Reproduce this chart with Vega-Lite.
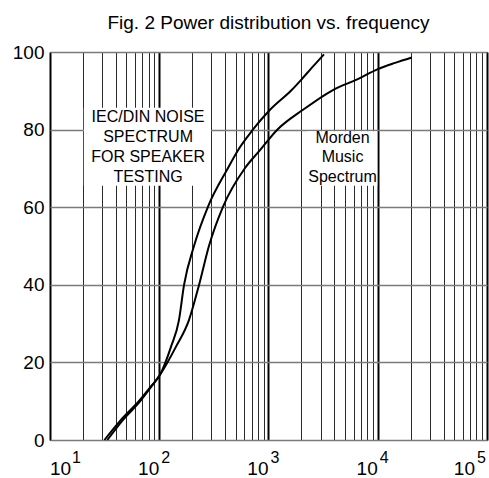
{
  "$schema": "https://vega.github.io/schema/vega-lite/v6.json",
  "width": 437,
  "height": 388,
  "autosize": {"type": "none"},
  "padding": {"left": 50, "top": 52, "right": 2, "bottom": 38},
  "title": {
    "text": "Fig. 2  Power distribution vs. frequency",
    "font": "Liberation Sans",
    "fontSize": 19,
    "fontWeight": "normal",
    "color": "black",
    "anchor": "middle",
    "frame": "group",
    "baseline": "alphabetic",
    "offset": -5
  },
  "config": {
    "view": {"stroke": "black", "strokeWidth": 1},
    "background": "white"
  },
  "datasets": {
    "curves": [
      {"f": 31.5, "v": 0, "s": "IEC/DIN noise"},
      {"f": 44, "v": 5, "s": "IEC/DIN noise"},
      {"f": 65, "v": 10, "s": "IEC/DIN noise"},
      {"f": 85, "v": 14, "s": "IEC/DIN noise"},
      {"f": 101.6, "v": 16.8, "s": "IEC/DIN noise"},
      {"f": 128, "v": 24, "s": "IEC/DIN noise"},
      {"f": 151.5, "v": 30.9, "s": "IEC/DIN noise"},
      {"f": 168.5, "v": 39.9, "s": "IEC/DIN noise"},
      {"f": 208, "v": 50, "s": "IEC/DIN noise"},
      {"f": 279, "v": 60.1, "s": "IEC/DIN noise"},
      {"f": 426, "v": 70.1, "s": "IEC/DIN noise"},
      {"f": 526, "v": 74.7, "s": "IEC/DIN noise"},
      {"f": 716, "v": 79.9, "s": "IEC/DIN noise"},
      {"f": 1033, "v": 85.1, "s": "IEC/DIN noise"},
      {"f": 1629, "v": 90.2, "s": "IEC/DIN noise"},
      {"f": 2000, "v": 92.9, "s": "IEC/DIN noise"},
      {"f": 2450, "v": 95.7, "s": "IEC/DIN noise"},
      {"f": 3220, "v": 99.4, "s": "IEC/DIN noise"},
      {"f": 33.5, "v": 0, "s": "Music"},
      {"f": 46, "v": 5, "s": "Music"},
      {"f": 67, "v": 10, "s": "Music"},
      {"f": 86, "v": 14, "s": "Music"},
      {"f": 101.6, "v": 16.8, "s": "Music"},
      {"f": 142, "v": 24, "s": "Music"},
      {"f": 187, "v": 30.9, "s": "Music"},
      {"f": 231, "v": 39.9, "s": "Music"},
      {"f": 285, "v": 50, "s": "Music"},
      {"f": 383, "v": 60.1, "s": "Music"},
      {"f": 610, "v": 70.1, "s": "Music"},
      {"f": 836, "v": 74.7, "s": "Music"},
      {"f": 1197, "v": 79.9, "s": "Music"},
      {"f": 2070, "v": 85.1, "s": "Music"},
      {"f": 3890, "v": 90.2, "s": "Music"},
      {"f": 6410, "v": 92.9, "s": "Music"},
      {"f": 10050, "v": 95.6, "s": "Music"},
      {"f": 14400, "v": 97.2, "s": "Music"},
      {"f": 20500, "v": 98.6, "s": "Music"}
    ],
    "boxes": [
      {"x1": 20.4, "x2": 297, "y1": 65.5, "y2": 85.6},
      {"x1": 2250, "x2": 9900, "y1": 65.5, "y2": 79.6}
    ],
    "notes": [
      {"f": 79, "v": 83.3, "t": "IEC/DIN NOISE"},
      {"f": 79, "v": 78.2, "t": "SPECTRUM"},
      {"f": 79, "v": 73.0, "t": "FOR SPEAKER"},
      {"f": 79, "v": 67.9, "t": "TESTING"},
      {"f": 4760, "v": 77.8, "t": "Morden"},
      {"f": 4760, "v": 72.9, "t": "Music"},
      {"f": 4760, "v": 67.8, "t": "Spectrum"}
    ],
    "xlabels": [
      {"f": 10, "e": "1"},
      {"f": 100, "e": "2"},
      {"f": 1000, "e": "3"},
      {"f": 10000, "e": "4"},
      {"f": 100000, "e": "5"}
    ]
  },
  "layer": [
    {
      "data": {"name": "boxes"},
      "mark": {"type": "rect", "fill": "white", "stroke": null},
      "encoding": {
        "x": {
          "field": "x1",
          "type": "quantitative",
          "scale": {"type": "log", "domain": [10, 100000], "nice": false},
          "axis": {
            "title": null,
            "labels": false,
            "ticks": false,
            "domain": false,
            "grid": true,
            "values": [10,20,30,40,50,60,70,80,90,100,200,300,400,500,600,700,800,900,1000,2000,3000,4000,5000,6000,7000,8000,9000,10000,20000,30000,40000,50000,60000,70000,80000,90000,100000],
            "gridColor": {"condition": {"test": "abs(log(datum.value)/LN10 - round(log(datum.value)/LN10)) < 0.001", "value": "black"}, "value": "#2a2a2a"},
            "gridWidth": {"condition": {"test": "abs(log(datum.value)/LN10 - round(log(datum.value)/LN10)) < 0.001", "value": 2}, "value": 1},
            "gridOpacity": 1
          }
        },
        "x2": {"field": "x2"},
        "y": {
          "field": "y1",
          "type": "quantitative",
          "scale": {"domain": [0, 100], "nice": false},
          "axis": {
            "title": null,
            "ticks": false,
            "domain": false,
            "grid": true,
            "values": [0,10,20,30,40,50,60,70,80,90,100],
            "labelExpr": "datum.value % 20 === 0 ? datum.label : ''",
            "labelFont": "Liberation Sans",
            "labelFontSize": 19,
            "labelColor": "black",
            "labelPadding": 6,
            "gridColor": "#7a7a7a",
            "gridWidth": 1.5,
            "gridOpacity": 1
          }
        },
        "y2": {"field": "y2"}
      }
    },
    {
      "data": {"name": "curves"},
      "mark": {"type": "line", "color": "black", "strokeWidth": 2, "interpolate": "monotone"},
      "encoding": {
        "x": {"field": "f", "type": "quantitative", "axis": {"title": null}},
        "y": {"field": "v", "type": "quantitative", "axis": {"title": null}},
        "detail": {"field": "s", "type": "nominal"}
      }
    },
    {
      "data": {"name": "notes"},
      "mark": {"type": "text", "font": "Liberation Sans", "fontSize": 16, "color": "black", "align": "center", "baseline": "middle"},
      "encoding": {
        "x": {"field": "f", "type": "quantitative", "axis": {"title": null}},
        "y": {"field": "v", "type": "quantitative", "axis": {"title": null}},
        "text": {"field": "t", "type": "nominal"}
      }
    },
    {
      "data": {"name": "xlabels"},
      "transform": [{"filter": "datum.f == 10"}],
      "mark": {"type": "text", "clip": false, "font": "Liberation Sans", "fontSize": 19, "color": "black", "align": "left", "baseline": "alphabetic", "dx": 0},
      "encoding": {
        "x": {"field": "f", "type": "quantitative", "axis": {"title": null}},
        "y": {"datum": -9, "type": "quantitative", "axis": {"title": null}},
        "text": {"value": "10"}
      }
    },
    {
      "data": {"name": "xlabels"},
      "transform": [{"filter": "datum.f > 10 && datum.f < 100000"}],
      "mark": {"type": "text", "clip": false, "font": "Liberation Sans", "fontSize": 19, "color": "black", "align": "right", "baseline": "alphabetic", "dx": 0},
      "encoding": {
        "x": {"field": "f", "type": "quantitative", "axis": {"title": null}},
        "y": {"datum": -9, "type": "quantitative", "axis": {"title": null}},
        "text": {"value": "10"}
      }
    },
    {
      "data": {"name": "xlabels"},
      "transform": [{"filter": "datum.f == 100000"}],
      "mark": {"type": "text", "clip": false, "font": "Liberation Sans", "fontSize": 19, "color": "black", "align": "right", "baseline": "alphabetic", "dx": -12},
      "encoding": {
        "x": {"field": "f", "type": "quantitative", "axis": {"title": null}},
        "y": {"datum": -9, "type": "quantitative", "axis": {"title": null}},
        "text": {"value": "10"}
      }
    },
    {
      "data": {"name": "xlabels"},
      "transform": [{"filter": "datum.f == 10"}],
      "mark": {"type": "text", "clip": false, "font": "Liberation Sans", "fontSize": 16, "color": "black", "align": "left", "baseline": "alphabetic", "dx": 22},
      "encoding": {
        "x": {"field": "f", "type": "quantitative", "axis": {"title": null}},
        "y": {"datum": -5.9, "type": "quantitative", "axis": {"title": null}},
        "text": {"field": "e", "type": "nominal"}
      }
    },
    {
      "data": {"name": "xlabels"},
      "transform": [{"filter": "datum.f > 10 && datum.f < 100000"}],
      "mark": {"type": "text", "clip": false, "font": "Liberation Sans", "fontSize": 16, "color": "black", "align": "left", "baseline": "alphabetic", "dx": 2},
      "encoding": {
        "x": {"field": "f", "type": "quantitative", "axis": {"title": null}},
        "y": {"datum": -5.9, "type": "quantitative", "axis": {"title": null}},
        "text": {"field": "e", "type": "nominal"}
      }
    },
    {
      "data": {"name": "xlabels"},
      "transform": [{"filter": "datum.f == 100000"}],
      "mark": {"type": "text", "clip": false, "font": "Liberation Sans", "fontSize": 16, "color": "black", "align": "left", "baseline": "alphabetic", "dx": -10},
      "encoding": {
        "x": {"field": "f", "type": "quantitative", "axis": {"title": null}},
        "y": {"datum": -5.9, "type": "quantitative", "axis": {"title": null}},
        "text": {"field": "e", "type": "nominal"}
      }
    }
  ]
}
